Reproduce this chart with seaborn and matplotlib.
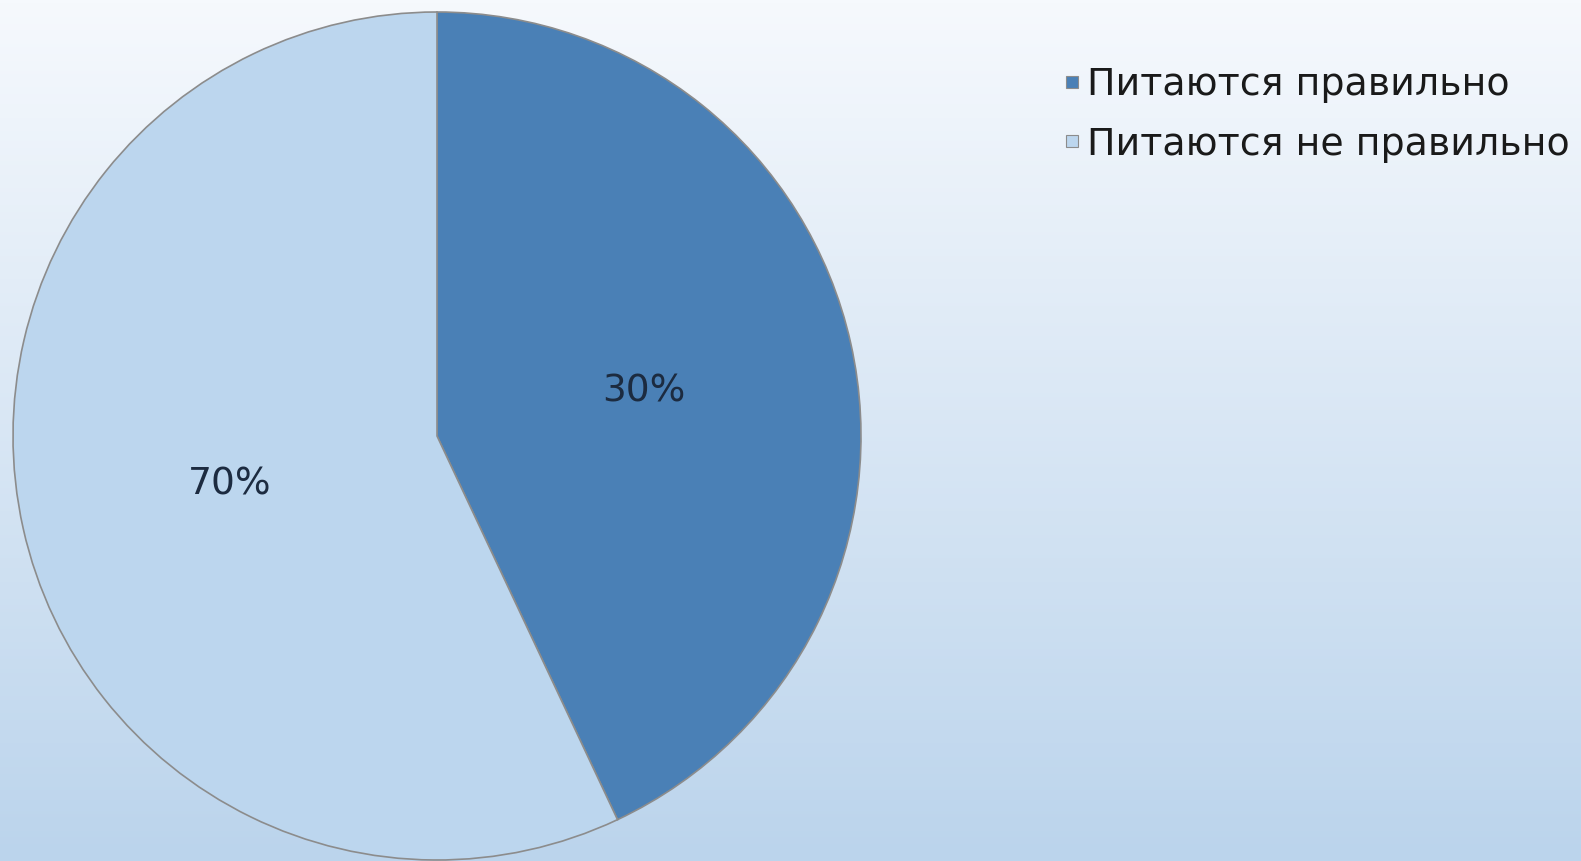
import numpy as np
import matplotlib
matplotlib.use("Agg")
import matplotlib.pyplot as plt
import seaborn as sns
from matplotlib.lines import Line2D

categories = ["Питаются правильно", "Питаются не правильно"]
slice_values = [43, 57]          # geometry as drawn in the picture
label_texts = ["30%", "70%"]      # labels printed on the slices
colors = ["#4a80b6", "#bcd6ee"]

sns.set_theme(style="white")
plt.rcParams['font.family'] = ['DejaVu Sans']

W, H, DPI = 1581, 861, 100
fig = plt.figure(figsize=(W / DPI, H / DPI), dpi=DPI)

# background gradient
bg = fig.add_axes([0, 0, 1, 1])
top = np.array([0xf6, 0xf9, 0xfd]) / 255
bot = np.array([0xbb, 0xd4, 0xec]) / 255
t = np.linspace(0, 1, 256)[:, None]
grad = top[None, :] * (1 - t) + bot[None, :] * t
bg.imshow(grad[:, None, :], aspect="auto", extent=[0, 1, 0, 1])
bg.set_axis_off()

cx, cy, r = 437, 436, 424
ax = fig.add_axes([(cx - r) / W, (H - cy - r) / H, 2 * r / W, 2 * r / H])
ax.set_facecolor("none")
wedges, _ = ax.pie(slice_values, colors=colors, startangle=90, counterclock=False,
                   radius=1.0, wedgeprops=dict(edgecolor="#8c8c8c", linewidth=1.2))
ax.set_xlim(-1.0, 1.0)
ax.set_ylim(-1.0, 1.0)
ax.set_aspect("equal")
ax.set_axis_off()

# slice labels
for w, lab in zip(wedges, label_texts):
    ang = np.deg2rad((w.theta1 + w.theta2) / 2)
    ax.text(0.5 * np.cos(ang), 0.5 * np.sin(ang) - 0.005, lab, ha="center", va="center",
            fontsize=27, color="#1c2b40")

handles = [Line2D([0], [0], marker="s", linestyle="none", markersize=9,
                  markerfacecolor=c, markeredgecolor="#8c8c8c", markeredgewidth=0.8)
           for c in colors]
leg = fig.legend(handles, categories, loc="upper left",
                 bbox_to_anchor=(1049 / W, 1 - 52 / H), frameon=False,
                 fontsize=27.3, handlelength=0.4, handletextpad=0.2,
                 labelspacing=0.62, borderaxespad=0)
for txt in leg.get_texts():
    txt.set_color("#1a1a1a")

fig.savefig("out.png", dpi=DPI)
